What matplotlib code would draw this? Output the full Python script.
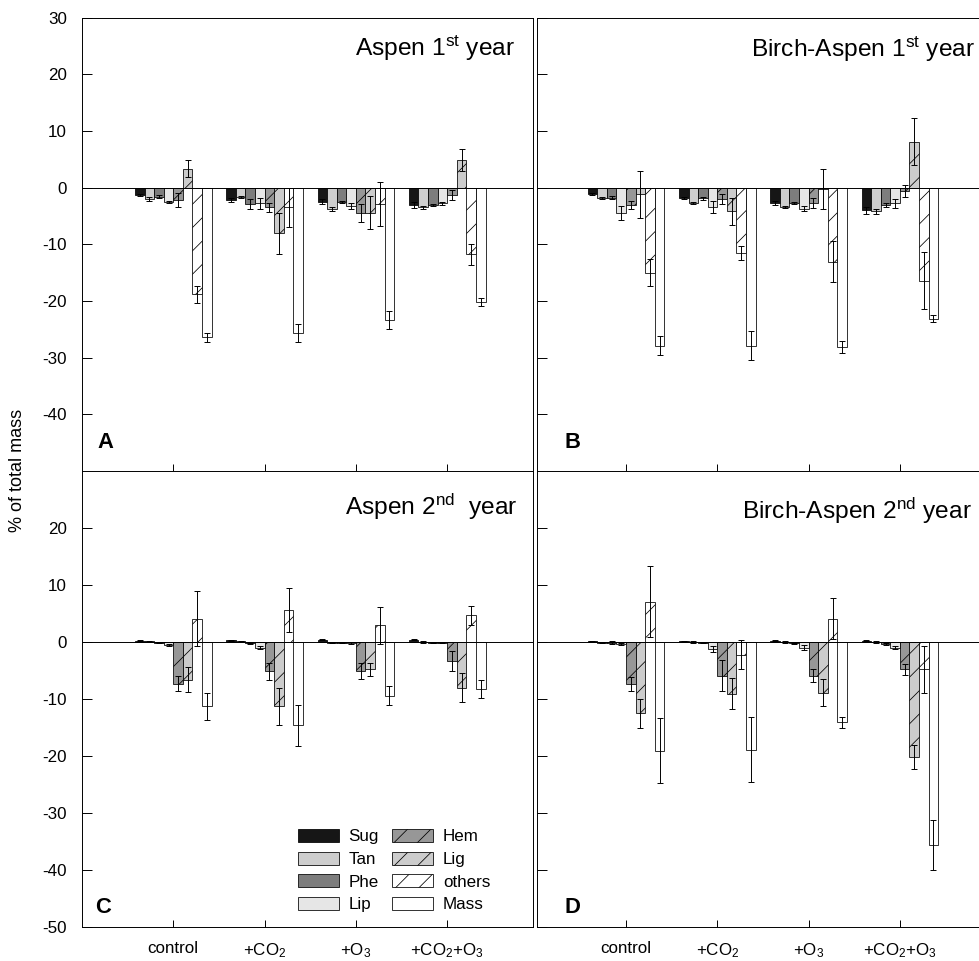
import matplotlib
matplotlib.use('Agg')
import matplotlib.pyplot as plt
import numpy as np

# ---------------- data ----------------
treatments = ["control", "+CO$_2$", "+O$_3$", "+CO$_2$+O$_3$"]
components = ["Sug", "Tan", "Phe", "Lip", "Hem", "Lig", "others", "Mass"]

# Panel A: Aspen 1st year
A_vals = {
    "Sug": [-1.3, -2.2, -2.5, -3.1],
    "Tan": [-2.0, -1.7, -3.8, -3.5],
    "Phe": [-1.6, -2.9, -2.5, -3.1],
    "Lip": [-2.5, -2.8, -3.2, -2.8],
    "Hem": [-2.2, -3.5, -4.5, -1.3],
    "Lig": [3.3, -8.1, -4.4, 4.9],
    "others": [-18.8, -3.5, -2.9, -11.8],
    "Mass": [-26.4, -25.6, -23.4, -20.2],
}
A_errs = {
    "Sug": [0.2, 0.3, 0.4, 0.5],
    "Tan": [0.3, 0.2, 0.3, 0.3],
    "Phe": [0.2, 0.9, 0.2, 0.2],
    "Lip": [0.2, 1.0, 0.5, 0.3],
    "Hem": [1.2, 0.8, 1.6, 0.9],
    "Lig": [1.5, 3.7, 2.9, 1.9],
    "others": [1.5, 3.4, 3.8, 1.9],
    "Mass": [0.8, 1.6, 1.6, 0.7],
}

# Panel B: Birch-Aspen 1st year
B_vals = {
    "Sug": [-1.2, -1.9, -2.7, -4.0],
    "Tan": [-1.8, -2.7, -3.4, -4.2],
    "Phe": [-1.8, -1.9, -2.7, -3.1],
    "Lip": [-4.5, -3.4, -3.7, -2.8],
    "Hem": [-3.0, -2.0, -2.7, -0.6],
    "Lig": [-1.2, -4.2, -0.2, 8.1],
    "others": [-15.0, -11.5, -13.1, -16.4],
    "Mass": [-27.9, -27.9, -28.1, -23.1],
}
B_errs = {
    "Sug": [0.2, 0.2, 0.3, 0.6],
    "Tan": [0.2, 0.2, 0.2, 0.5],
    "Phe": [0.3, 0.3, 0.2, 0.3],
    "Lip": [1.3, 1.0, 0.4, 0.8],
    "Hem": [0.7, 0.9, 0.9, 1.1],
    "Lig": [4.1, 2.4, 3.5, 4.1],
    "others": [2.4, 1.2, 3.6, 5.0],
    "Mass": [1.7, 2.6, 1.0, 0.6],
}

# Panel C: Aspen 2nd year
C_vals = {
    "Sug": [0.2, 0.3, 0.4, 0.4],
    "Tan": [0.1, 0.1, -0.1, 0.0],
    "Phe": [-0.1, -0.2, -0.1, -0.1],
    "Lip": [-0.5, -1.0, -0.2, -0.1],
    "Hem": [-7.3, -5.1, -5.1, -3.3],
    "Lig": [-6.6, -11.3, -4.8, -8.0],
    "others": [4.1, 5.6, 2.9, 4.7],
    "Mass": [-11.3, -14.6, -9.4, -8.2],
}
C_errs = {
    "Sug": [0.1, 0.1, 0.1, 0.1],
    "Tan": [0.1, 0.1, 0.1, 0.1],
    "Phe": [0.1, 0.1, 0.1, 0.1],
    "Lip": [0.2, 0.3, 0.2, 0.1],
    "Hem": [1.3, 1.5, 1.4, 1.7],
    "Lig": [2.2, 3.2, 1.2, 2.5],
    "others": [4.8, 3.8, 3.2, 1.7],
    "Mass": [2.4, 3.6, 1.6, 1.6],
}

# Panel D: Birch-Aspen 2nd year
D_vals = {
    "Sug": [0.1, 0.1, 0.2, 0.2],
    "Tan": [-0.1, 0.0, 0.0, 0.0],
    "Phe": [-0.1, -0.1, -0.2, -0.4],
    "Lip": [-0.4, -1.2, -1.0, -1.0],
    "Hem": [-7.4, -5.9, -5.9, -4.8],
    "Lig": [-12.5, -9.1, -8.9, -20.2],
    "others": [7.1, -2.2, 4.1, -4.8],
    "Mass": [-19.1, -18.9, -14.1, -35.6],
}
D_errs = {
    "Sug": [0.1, 0.1, 0.1, 0.1],
    "Tan": [0.1, 0.1, 0.1, 0.1],
    "Phe": [0.2, 0.1, 0.1, 0.2],
    "Lip": [0.2, 0.5, 0.4, 0.3],
    "Hem": [1.2, 2.7, 1.2, 1.0],
    "Lig": [2.5, 2.7, 2.4, 2.1],
    "others": [6.3, 2.5, 3.6, 4.1],
    "Mass": [5.7, 5.7, 0.9, 4.4],
}

titles = ["Aspen 1$^{st}$ year", "Birch-Aspen 1$^{st}$ year",
          "Aspen 2$^{nd}$  year", "Birch-Aspen 2$^{nd}$ year"]
letters = ["A", "B", "C", "D"]

# ---------------- style ----------------
face = {"Sug": "#161616", "Tan": "#cecece", "Phe": "#7d7d7d", "Lip": "#e6e6e6",
        "Hem": "#979797", "Lig": "#cccccc", "others": "#ffffff", "Mass": "#ffffff"}
hatch = {"Hem": "/", "Lig": "/", "others": "/"}

DPI = 70
W, H = 979, 961
def pt(px):
    return px * 72.0 / DPI

plt.rcParams['font.family'] = ['Liberation Sans', 'DejaVu Sans']
plt.rcParams['mathtext.fontset'] = 'custom'
plt.rcParams['mathtext.rm'] = 'Liberation Sans'
plt.rcParams['mathtext.default'] = 'regular'
plt.rcParams['hatch.linewidth'] = 0.8
plt.rcParams['axes.unicode_minus'] = False

fig = plt.figure(figsize=(W / DPI, H / DPI), dpi=DPI)

def rect(x0, y0, x1, y1):
    return [x0 / W, 1 - y1 / H, (x1 - x0) / W, (y1 - y0) / H]

rects = [rect(82, 17.5, 533, 471), rect(537, 17.5, 989, 471),
         rect(82, 471, 533, 927), rect(537, 471, 989, 927)]
xlims = [(0, 451 / 91.3), (1 - 89 / 91.3, 1 - 89 / 91.3 + 452 / 91.3)] * 2
panel_vals = [A_vals, B_vals, C_vals, D_vals]
panel_errs = [A_errs, B_errs, C_errs, D_errs]
title_pos = [(515, 56), (975, 57), (518, 515), (972, 519)]
letter_pos = [(97, 448), (565, 448), (95, 913), (565, 913)]

bw = 0.105
centers = np.arange(1, len(treatments) + 1)
axes = []
handles = None
for p in range(4):
    ax = fig.add_axes(rects[p])
    axes.append(ax)
    hs = []
    for i, comp in enumerate(components):
        x = centers + (i - 3.5) * bw
        b = ax.bar(x, panel_vals[p][comp], bw, color=face[comp], edgecolor='black',
                   linewidth=0.8, hatch=hatch.get(comp, None), zorder=2, label=comp)
        hs.append(b)
        ax.errorbar(x, panel_vals[p][comp], yerr=panel_errs[p][comp], fmt='none',
                    ecolor='black', elinewidth=1, capsize=pt(3.3), capthick=1, zorder=3)
    if handles is None:
        handles = hs
    ax.axhline(0, color='black', lw=1, zorder=4)
    ax.set_xlim(*xlims[p])
    ax.set_ylim(-50, 30)
    ax.set_xticks(centers)
    if p < 2:
        ax.set_yticks(np.arange(-40, 31, 10))
        ax.tick_params(axis='x', labelbottom=False)
    else:
        ax.set_yticks(np.arange(-50, 21, 10))
        ax.set_xticklabels(treatments, fontsize=pt(17))
    ax.tick_params(axis='y', direction='in', length=pt(10), width=1,
                   labelsize=pt(17), pad=pt(15))
    ax.tick_params(axis='x', direction='in', length=pt(7), width=1, pad=pt(14))
    if p % 2 == 1:
        ax.tick_params(axis='y', labelleft=False)
    for s in ax.spines.values():
        s.set_linewidth(1)
    fig.text(title_pos[p][0] / W, 1 - title_pos[p][1] / H, titles[p],
             ha='right', va='baseline', fontsize=pt(24.5))
    fig.text(letter_pos[p][0] / W, 1 - letter_pos[p][1] / H, letters[p],
             ha='left', va='baseline', fontsize=pt(22), fontweight='bold')

axes[2].legend(handles, components, ncol=2, loc='upper left',
               bbox_to_anchor=(298 / W, 1 - 829 / H), bbox_transform=fig.transFigure,
               frameon=False, fontsize=pt(17), handlelength=2.4, handleheight=0.8,
               handletextpad=0.57, columnspacing=0.8, labelspacing=0.42,
               borderpad=0, borderaxespad=0)

fig.text(18 / W, 1 - 470 / H, '% of total mass', rotation=90, ha='center',
         va='center', fontsize=pt(18))

fig.savefig('out.png', dpi=DPI)
